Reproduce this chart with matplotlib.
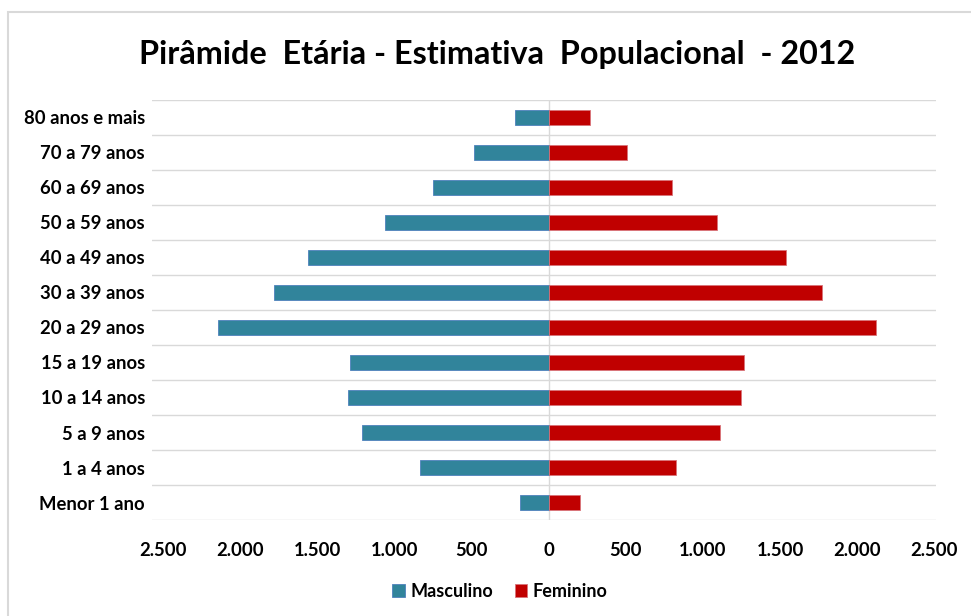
import numpy as np
import matplotlib.pyplot as plt
from matplotlib.patches import Rectangle

# Faixas etárias (de baixo para cima)
faixas = ["Menor 1 ano", "1 a 4 anos", "5 a 9 anos", "10 a 14 anos", "15 a 19 anos",
          "20 a 29 anos", "30 a 39 anos", "40 a 49 anos", "50 a 59 anos",
          "60 a 69 anos", "70 a 79 anos", "80 anos e mais"]

masculino = [185, 836, 1209, 1299, 1286, 2141, 1781, 1562, 1061, 746, 482, 219]
feminino = [206, 823, 1112, 1247, 1266, 2121, 1774, 1537, 1093, 797, 508, 270]

ticks = [-2500, -2000, -1500, -1000, -500, 0, 500, 1000, 1500, 2000, 2500]
tick_labels = ["2.500", "2.000", "1.500", "1.000", "500", "0", "500", "1.000", "1.500", "2.000", "2.500"]

plt.rcParams['font.family'] = ['Lato', 'DejaVu Sans']

fig = plt.figure(figsize=(9.71, 6.16), dpi=100)
ax = fig.add_axes([0.1565, 0.1558, 0.8074, 0.682])

y = np.arange(len(faixas))
ax.barh(y, -np.array(masculino), height=0.43, color="#31849B", edgecolor="#4F81BD",
        linewidth=0.6, label="Masculino", zorder=3)
ax.barh(y, feminino, height=0.43, color="#C00000", edgecolor="#D9747A",
        linewidth=0.6, label="Feminino", zorder=3)

ax.set_xlim(-2570, 2510)
ax.set_ylim(-0.5, len(faixas) - 0.5)

# linhas de grade horizontais entre as categorias
for b in np.arange(-0.5, len(faixas), 1.0):
    ax.axhline(b, color="#D9D9D9", linewidth=1, zorder=1)
ax.axvline(0, color="#D9D9D9", linewidth=1, zorder=2)

ax.set_yticks(y)
ax.set_yticklabels(faixas, fontsize=13.3, fontweight="bold")
ax.set_xticks(ticks)
ax.set_xticklabels(tick_labels, fontsize=13.3, fontweight="bold")
ax.tick_params(axis="y", length=0, pad=5)
ax.tick_params(axis="x", length=0, pad=16)
for s in ax.spines.values():
    s.set_visible(False)

fig.suptitle("Pirâmide  Etária - Estimativa  Populacional  - 2012", fontsize=23.3,
             fontweight="bold", x=0.512, y=0.935)

fig.legend(loc="lower center", bbox_to_anchor=(0.515, 0.0), ncol=2, frameon=False,
           prop={"size": 13, "weight": "bold"}, handlelength=0.7, handleheight=0.7,
           handletextpad=0.3, columnspacing=1.2)

# moldura do gráfico
fig.patches.append(Rectangle((8 / 971, -0.01), 1.0, 1 - 12 / 616 + 0.01,
                             transform=fig.transFigure, fill=False,
                             edgecolor="#D9D9D9", linewidth=1.5))

plt.savefig("out.png", dpi=100)
